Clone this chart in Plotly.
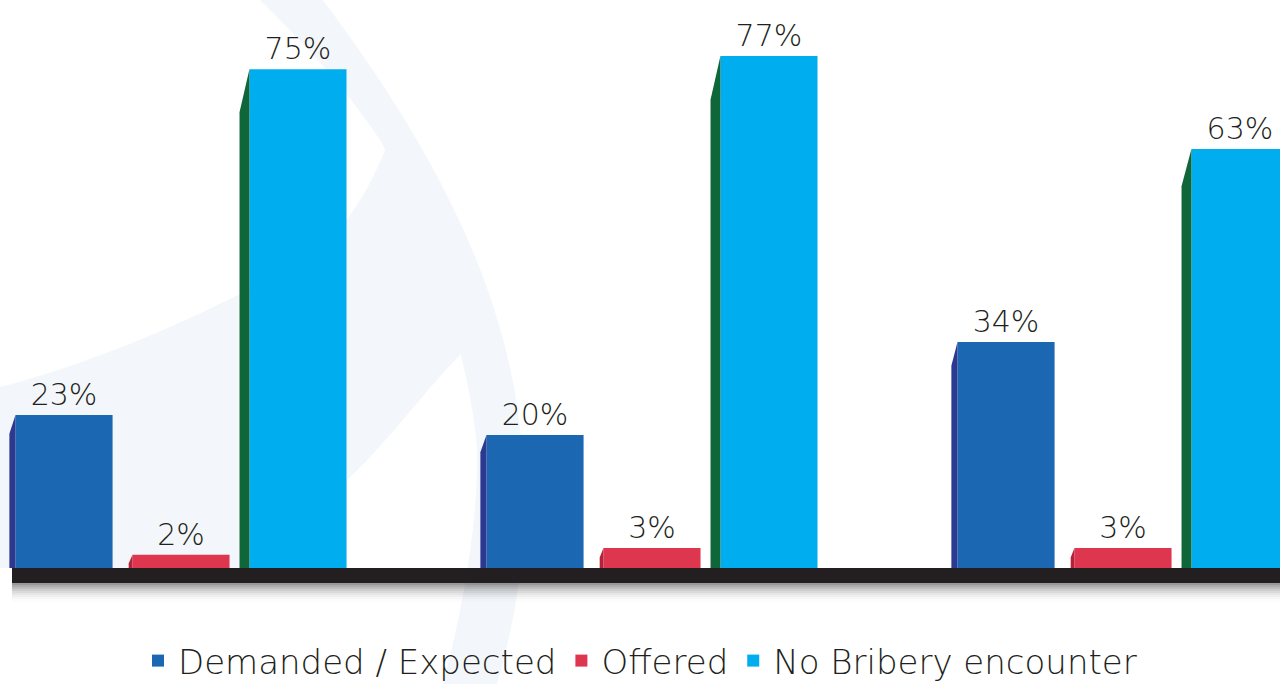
import plotly.graph_objects as go

# data
series = ["Demanded / Expected", "Offered", "No Bribery encounter"]
demanded = [23, 20, 34]
offered = [2, 3, 3]
no_bribery = [75, 77, 63]
values = [demanded, offered, no_bribery]

# styling
W, H = 1280, 684
face_colors = ["#1b67b1", "#de364f", "#00aeef"]
side_colors = ["#2b3990", "#b52237", "#0f6638"]
side_widths = [0.013, 0.008, 0.021]
FONT = "DejaVu Sans"
TEXT = "#231f20"
WATERMARK = "#f3f6fa"

BARGAP = 0.255
GROUPGAP = 0.17
slot = (1 - BARGAP) / 3
bar_w = slot * (1 - GROUPGAP)

x = list(range(len(demanded)))

fig = go.Figure()

for k, name in enumerate(series):
    fig.add_trace(go.Bar(
        x=x, y=values[k], name=name,
        marker=dict(color=face_colors[k], line=dict(width=0)),
        texttemplate="%{y}%", textposition="outside",
        textfont=dict(family=FONT, size=30, color=TEXT, weight=200),
        cliponaxis=False,
    ))

# left "3d" side of each bar, with slanted top
for k in range(len(series)):
    for i, v in enumerate(values[k]):
        left = i + (k - 1) * slot - bar_w / 2
        sw = side_widths[k]
        drop = 0.07 * v + 1.2
        fig.add_trace(go.Scatter(
            x=[left - sw, left - sw, left, left, left - sw],
            y=[0, v - drop, v, 0, 0],
            mode="lines", fill="toself", fillcolor=side_colors[k],
            line=dict(width=0), hoverinfo="skip", showlegend=False,
        ))


def px_path(points):
    """pixel points -> svg path in paper coords"""
    parts = []
    for cmd, pts in points:
        coords = " ".join(f"{px / W:.4f},{1 - py / H:.4f}" for px, py in pts)
        parts.append(f"{cmd} {coords}")
    return " ".join(parts) + " Z"


# faint watermark swoosh in the background
arc = px_path([
    ("M", [(260, 0)]),
    ("L", [(323, 0)]),
    ("C", [(420, 130), (510, 280), (522, 450)]),
    ("C", [(528, 560), (515, 620), (497, 684)]),
    ("L", [(443, 684)]),
    ("C", [(465, 600), (478, 520), (477, 450)]),
    ("C", [(474, 390), (440, 250), (380, 140)]),
    ("C", [(340, 80), (300, 40), (260, 0)]),
])
sweep = px_path([
    ("M", [(0, 387)]),
    ("C", [(110, 358), (210, 312), (300, 262)]),
    ("C", [(340, 236), (365, 200), (385, 150)]),
    ("L", [(420, 150)]),
    ("L", [(450, 220)]),
    ("L", [(460, 355)]),
    ("C", [(425, 390), (390, 440), (347, 480)]),
    ("L", [(347, 568)]),
    ("L", [(0, 568)]),
])
for p in (arc, sweep):
    fig.add_shape(type="path", path=p, xref="paper", yref="paper",
                  fillcolor=WATERMARK, line=dict(width=0), layer="below")

# black floor with soft shadow
px_per_unit = 6.65
floor_px = 15
for j in range(10):
    op = 0.4 * (1 - j / 10) ** 2
    fig.add_shape(type="rect", xref="paper", yref="y",
                  x0=12 / W, x1=1,
                  y0=-(floor_px + 2 * j) / px_per_unit, y1=-(floor_px + 2 * j + 2) / px_per_unit,
                  fillcolor=f"rgba(0,0,0,{op:.3f})", line=dict(width=0))
fig.add_shape(type="rect", xref="paper", yref="y", x0=12 / W, x1=1,
              y0=0, y1=-floor_px / px_per_unit, fillcolor="#231f20", line=dict(width=0))

fig.update_layout(
    width=W, height=H,
    margin=dict(l=0, r=0, t=0, b=0, autoexpand=False),
    barmode="group", bargap=BARGAP, bargroupgap=GROUPGAP,
    plot_bgcolor="white", paper_bgcolor="white",
    xaxis=dict(range=[-181 / 471, (W - 181) / 471], visible=False, fixedrange=True),
    yaxis=dict(range=[-116 / px_per_unit, 568 / px_per_unit], visible=False, fixedrange=True),
    showlegend=True,
    legend=dict(orientation="h", x=0.5, xanchor="center", y=1 - 661 / H, yanchor="middle",
                font=dict(family=FONT, size=34, color=TEXT, weight=200),
                bgcolor="rgba(0,0,0,0)"),
    font=dict(family=FONT),
)

fig.write_html("out.html", config={"displayModeBar": False},
               post_script="document.body.style.margin='0';")
